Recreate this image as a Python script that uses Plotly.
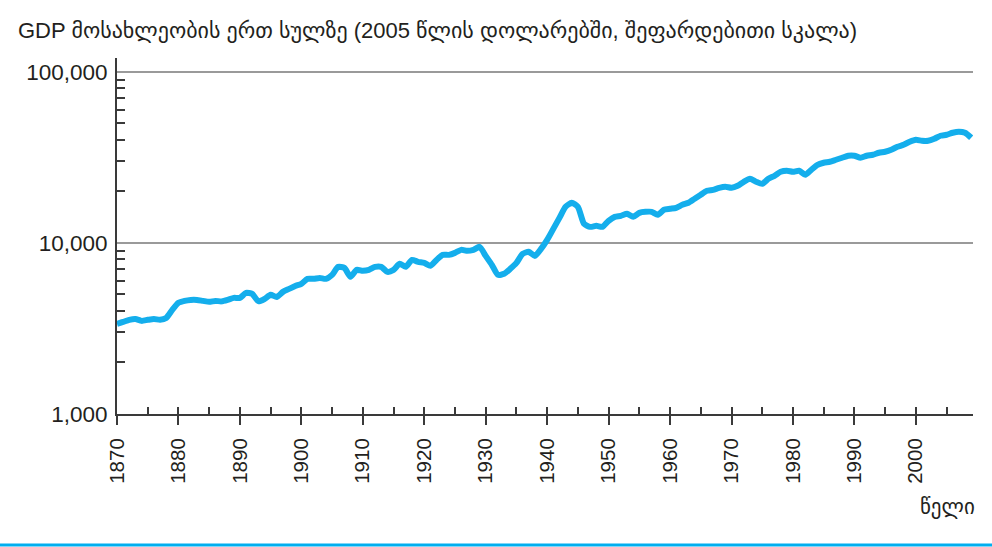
import plotly.graph_objects as go

years = list(range(1870, 2010))
gdp_per_capita = [
    3360, 3450, 3550, 3590, 3500, 3550, 3590, 3550, 3640, 4060,   # 1870s
    4460, 4580, 4640, 4640, 4580, 4520, 4580, 4550, 4640, 4770,   # 1880s
    4770, 5100, 5030, 4560, 4700, 4970, 4830, 5170, 5380, 5600,   # 1890s
    5760, 6160, 6160, 6240, 6160, 6500, 7240, 7140, 6330, 6950,   # 1900s
    6860, 6950, 7240, 7240, 6770, 6950, 7540, 7240, 7950, 7740,   # 1910s
    7640, 7340, 7950, 8510, 8510, 8740, 9100, 8980, 9100, 9480,   # 1920s
    8390, 7440, 6500, 6590, 7050, 7640, 8620, 8860, 8390, 9220,   # 1930s
    10410, 12070, 14000, 16240, 17140, 16240, 12920, 12400, 12570, 12400,  # 1940s
    13450, 14190, 14380, 14780, 14190, 14970, 15180, 15180, 14580, 15600,  # 1950s
    15810, 16020, 16680, 17140, 18090, 19090, 20140, 20410, 20970, 21260,  # 1960s
    20970, 21540, 22740, 23680, 22740, 22130, 23680, 24650, 26020, 26370,  # 1970s
    26020, 26370, 24980, 26730, 28580, 29360, 29760, 30580, 31410, 32270,  # 1980s
    32270, 31410, 32270, 32700, 33600, 34060, 34990, 36420, 37420, 38960,  # 1990s
    40030, 39490, 39490, 40580, 42240, 42810, 43980, 44590, 43980, 41120,  # 2000s
]

y_tick_vals = [1000, 10000, 100000]
y_tick_text = ["1,000", "10,000", "100,000"]
y_minor_vals = [2000, 3000, 4000, 5000, 6000, 7000, 8000, 9000,
                20000, 30000, 40000, 50000, 60000, 70000, 80000, 90000]
x_tick_vals = list(range(1870, 2001, 10))
x_tick_text = [str(v) for v in x_tick_vals]

title_text = "GDP მოსახლეობის ერთ სულზე (2005 წლის დოლარებში, შეფარდებითი სკალა)"
x_title = "წელი"

FONT = "Liberation Sans, Arial, DejaVu Sans, sans-serif"
INK = "#231F20"
LINE = "#14AEEC"
AXIS = "#3a3a3a"
X_RANGE = [1870, 2009.3]

fig = go.Figure()
# invisible copy on the overlay axis so its inner ticks are always drawn
fig.add_trace(go.Scatter(
    x=years, y=gdp_per_capita, mode="lines", xaxis="x2",
    line=dict(color="rgba(0,0,0,0)", width=0), hoverinfo="skip",
))
fig.add_trace(go.Scatter(
    x=years, y=gdp_per_capita, mode="lines",
    line=dict(color=LINE, width=6, shape="spline", smoothing=0.6),
    hovertemplate="%{x}: %{y:,.0f}<extra></extra>",
))

fig.update_layout(
    width=992, height=547,
    margin=dict(l=117, r=19, t=58, b=133),
    paper_bgcolor="white", plot_bgcolor="white",
    showlegend=False,
    font=dict(family=FONT, color=INK),
    title=dict(text=title_text, x=18/992, xanchor="left", xref="container",
               y=1 - 30/547, yanchor="middle", yref="container",
               font=dict(size=22, color=INK, family=FONT)),
    xaxis=dict(
        range=X_RANGE, showgrid=False, zeroline=False,
        showline=True, linecolor=AXIS, linewidth=2,
        tickmode="array", tickvals=x_tick_vals, ticktext=x_tick_text,
        ticks="outside", ticklen=9, tickwidth=1.5, tickcolor=AXIS,
        tickangle=-90, tickfont=dict(size=20.5, color=INK, family=FONT),
        ticklabelstandoff=5,
    ),
    xaxis2=dict(
        range=X_RANGE, overlaying="x", anchor="y", side="bottom",
        showgrid=False, zeroline=False, showline=False, showticklabels=False,
        tickmode="linear", tick0=1870, dtick=5,
        ticks="inside", ticklen=7, tickwidth=1.5, tickcolor=AXIS,
    ),
    yaxis=dict(
        type="log", range=[3, 5.08], zeroline=False,
        showline=True, linecolor=AXIS, linewidth=2,
        tickmode="array", tickvals=y_tick_vals, ticktext=y_tick_text,
        ticks="", tickfont=dict(size=22.5, color=INK, family=FONT),
        ticklabelstandoff=3,
        showgrid=True, gridcolor="#9a9a9a", gridwidth=1.5,
        minor=dict(tickmode="array", tickvals=y_minor_vals, ticks="inside",
                   ticklen=8, tickwidth=1.5, tickcolor=AXIS, showgrid=False),
    ),
)

fig.add_annotation(text=x_title, xref="paper", yref="paper",
                   x=(977 - 117) / 856, y=(414 - 507) / 356,
                   xanchor="right", yanchor="middle", showarrow=False,
                   font=dict(size=21, color=INK, family=FONT))

fig.add_shape(type="line", xref="paper", yref="paper",
              x0=-117 / 856, x1=1 + 19 / 856,
              y0=(414 - 545) / 356, y1=(414 - 545) / 356,
              line=dict(color="#00AEEF", width=3))

fig.write_html("out.html",
               config={"displayModeBar": False},
               post_script="document.body.style.margin='0';document.body.style.padding='0';")
